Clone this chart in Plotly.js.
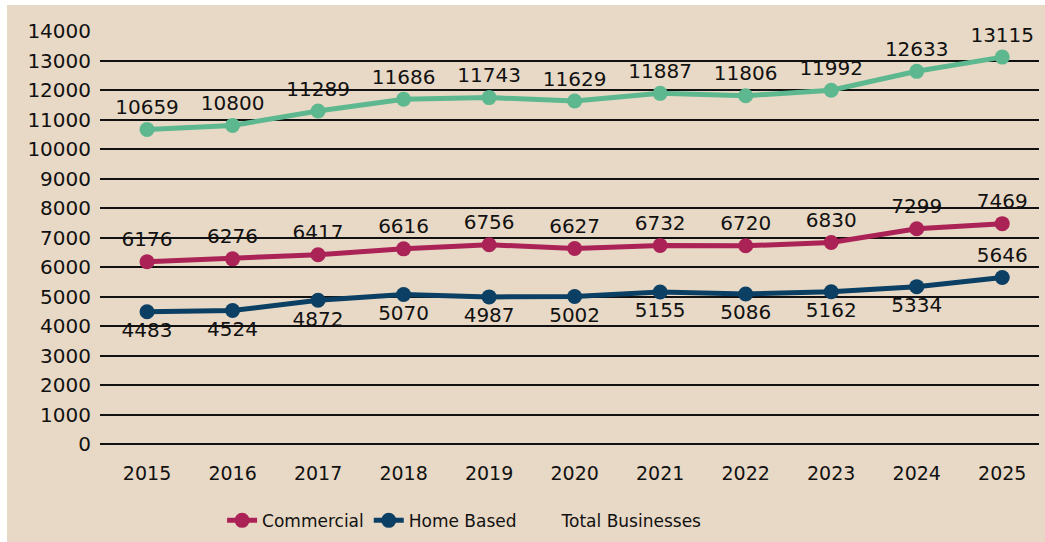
<!DOCTYPE html>
<html>
<head>
<meta charset="utf-8">
<script src="https://cdn.plot.ly/plotly-3.0.1.min.js"></script>
<style>
  html, body { margin: 0; padding: 0; background: #ffffff; }
  #chart { position: absolute; left: 7px; top: 5px; width: 1038px; height: 537px; }
</style>
</head>
<body>
<div id="chart"></div>
<script>
const years = ["2015","2016","2017","2018","2019","2020","2021","2022","2023","2024","2025"];
const totalBusinesses = [10659, 10800, 11289, 11686, 11743, 11629, 11887, 11806, 11992, 12633, 13115];
const commercial = [6176, 6276, 6417, 6616, 6756, 6627, 6732, 6720, 6830, 7299, 7469];
const homeBased = [4483, 4524, 4872, 5070, 4987, 5002, 5155, 5086, 5162, 5334, 5646];
const yTicks = [0,1000,2000,3000,4000,5000,6000,7000,8000,9000,10000,11000,12000,13000,14000];

const FONT = "DejaVu Sans, sans-serif";
const labelFont = {family: FONT, size: 20, color: "#111111"};

const homePositions = homeBased.map((v, i) => i === homeBased.length - 1 ? "top center" : "bottom center");

const traces = [
  {
    x: years, y: totalBusinesses, type: "scatter", mode: "lines+markers+text",
    name: "Total Businesses", showlegend: false,
    line: {color: "#5db88f", width: 5}, marker: {color: "#5db88f", size: 15},
    text: totalBusinesses.map(String), textposition: "top center", textfont: labelFont,
    cliponaxis: false
  },
  {
    x: years, y: commercial, type: "scatter", mode: "lines+markers+text",
    name: "Commercial",
    line: {color: "#ab2356", width: 5}, marker: {color: "#ab2356", size: 15},
    text: commercial.map(String), textposition: "top center", textfont: labelFont,
    cliponaxis: false
  },
  {
    x: years, y: homeBased, type: "scatter", mode: "lines+markers+text",
    name: "Home Based",
    line: {color: "#0b3f63", width: 5}, marker: {color: "#0b3f63", size: 15},
    text: homeBased.map(String), textposition: homePositions, textfont: labelFont,
    cliponaxis: false
  },
  {
    x: [null], y: [null], type: "scatter", mode: "lines",
    name: "Total Businesses",
    line: {color: "rgba(0,0,0,0)", width: 5}, hoverinfo: "skip"
  }
];

const layout = {
  width: 1038, height: 537,
  paper_bgcolor: "#e8d9c6", plot_bgcolor: "#e8d9c6",
  margin: {l: 93, r: 6, t: 26, b: 98, autoexpand: false},
  font: {family: FONT, size: 20, color: "#111111"},
  xaxis: {
    type: "category", range: [-0.55, 10.43],
    showgrid: false, zeroline: false, showline: false, ticks: "",
    tickfont: {family: FONT, size: 19, color: "#111111"},
    ticklabelstandoff: 16
  },
  yaxis: {
    range: [0, 14000], tickvals: yTicks, ticktext: yTicks.map(String),
    showgrid: true, gridcolor: "#111111", gridwidth: 2,
    zeroline: true, zerolinecolor: "#111111", zerolinewidth: 2,
    showline: false, ticks: "",
    tickfont: {family: FONT, size: 20, color: "#111111"},
    ticklabelstandoff: 8
  },
  legend: {
    orientation: "h", x: 0.13, xanchor: "left", y: -0.186, yanchor: "middle",
    font: {family: FONT, size: 17, color: "#111111"},
    bgcolor: "rgba(0,0,0,0)", traceorder: "normal"
  },
  showlegend: true
};

Plotly.newPlot("chart", traces, layout, {displayModeBar: false, staticPlot: true});
</script>
</body>
</html>
